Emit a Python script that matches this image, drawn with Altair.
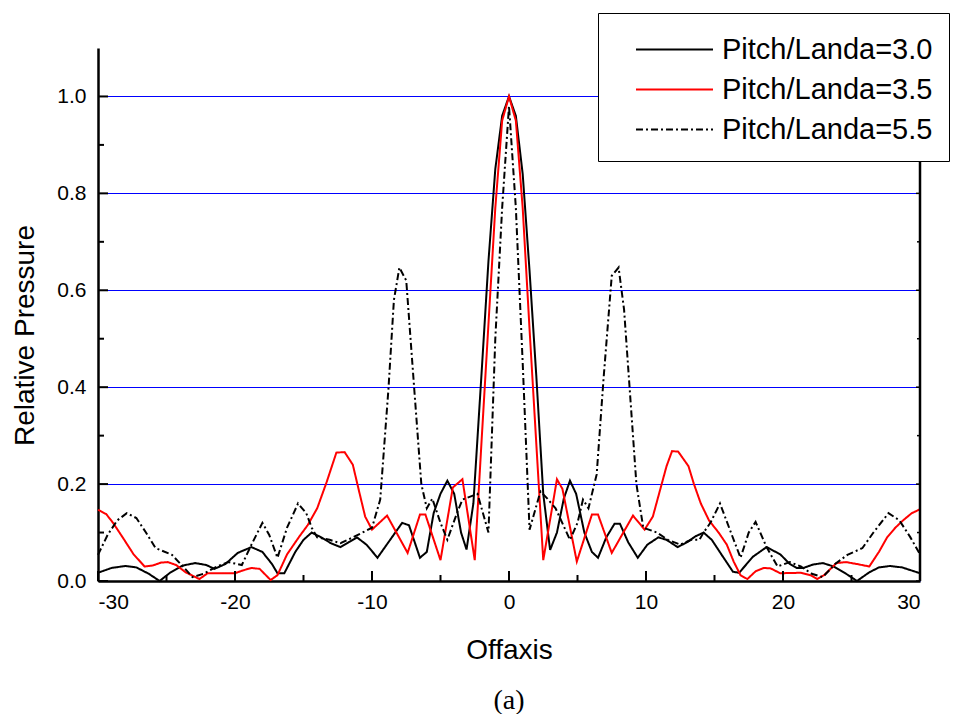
import altair as alt
import pandas as pd

# ---- data ----
x_30 = [-30, -29, -28, -27.2, -26.3, -25.5, -24.7, -23.8, -22.9, -22.1, -21.5, -20.7, -19.8, -18.8, -18.0,
        -17.3, -16.9, -16.4, -15.6, -15.0, -14.4, -13.7, -13.0, -12.3, -11.7, -11.1, -10.4, -9.6, -8.8, -7.8,
        -7.3, -6.5, -6.0, -5.5, -5.0, -4.5, -4.0, -3.5, -3.1, -2.6, -2.0, -1.5, -1.0, -0.5, 0,
        0.5, 1.0, 1.5, 2.0, 2.5, 3.0, 3.5, 4.0, 4.45, 4.9, 5.5, 6.05, 6.5, 7.1, 7.7, 8.1, 8.7, 9.4, 10.1,
        10.9, 11.5, 12.3, 13.0, 13.6, 14.2, 14.8, 15.5, 16.35, 16.8, 17.8, 18.8, 19.8, 20.5, 21.0, 21.5,
        22.2, 22.9, 23.7, 24.6, 25.4, 26.3, 27.0, 27.8, 28.7, 30]
y_30 = [0.017, 0.027, 0.031, 0.028, 0.015, 0.0, 0.018, 0.032, 0.037, 0.033, 0.025, 0.035, 0.058, 0.070, 0.060,
        0.035, 0.016, 0.016, 0.060, 0.085, 0.100, 0.090, 0.078, 0.070, 0.080, 0.090, 0.075, 0.048, 0.080, 0.120,
        0.115, 0.048, 0.060, 0.140, 0.180, 0.207, 0.180, 0.100, 0.065, 0.160, 0.430, 0.660, 0.850, 0.960, 1.000,
        0.960, 0.840, 0.640, 0.420, 0.180, 0.064, 0.100, 0.170, 0.207, 0.180, 0.100, 0.060, 0.048, 0.090, 0.118,
        0.118, 0.080, 0.048, 0.075, 0.090, 0.085, 0.070, 0.080, 0.092, 0.100, 0.085, 0.055, 0.019, 0.017, 0.050,
        0.070, 0.055, 0.035, 0.027, 0.027, 0.034, 0.037, 0.030, 0.015, 0.000, 0.018, 0.028, 0.031, 0.028, 0.016]

x_35 = [-30, -29.4, -28.9, -28.2, -27.4, -26.6, -26.0, -25.4, -24.9, -24.3, -23.6, -22.6, -22.0, -21.0, -20.0,
        -19.4, -18.8, -18.2, -17.4, -16.9, -16.2, -15.3, -14.7, -14.0, -13.3, -12.6, -12.0, -11.4, -10.9, -10.5,
        -10.0, -8.9, -7.4, -6.5, -6.1, -5.0, -4.1, -3.4, -2.5, -2.0, -1.5, -1.0, -0.5, 0,
        0.5, 1.0, 1.5, 2.0, 2.5, 3.5, 3.9, 4.95, 6.05, 6.5, 7.5, 9.05, 9.9, 10.5, 11.5, 11.9, 12.35, 13.1,
        13.5, 14.0, 14.6, 15.3, 15.9, 16.4, 16.9, 17.4, 18.0, 18.6, 19.1, 19.8, 21.3, 22.0, 22.5, 23.0, 23.9,
        24.6, 25.4, 26.3, 27.0, 27.6, 28.2, 28.8, 29.4, 30]
y_35 = [0.147, 0.138, 0.120, 0.090, 0.055, 0.030, 0.032, 0.038, 0.039, 0.033, 0.018, 0.004, 0.016, 0.016, 0.016,
        0.022, 0.027, 0.025, 0.002, 0.012, 0.055, 0.092, 0.115, 0.150, 0.205, 0.265, 0.266, 0.240, 0.180, 0.133,
        0.106, 0.135, 0.058, 0.137, 0.137, 0.043, 0.193, 0.210, 0.043, 0.290, 0.530, 0.770, 0.950, 1.000,
        0.950, 0.770, 0.520, 0.280, 0.043, 0.210, 0.190, 0.040, 0.137, 0.137, 0.058, 0.135, 0.106, 0.133, 0.237,
        0.268, 0.267, 0.237, 0.200, 0.160, 0.125, 0.100, 0.075, 0.040, 0.012, 0.004, 0.020, 0.027, 0.026, 0.016,
        0.017, 0.012, 0.004, 0.012, 0.037, 0.039, 0.035, 0.030, 0.060, 0.090, 0.110, 0.126, 0.140, 0.148]

x_55 = [-30, -29.3, -28.6, -27.9, -27.2, -26.5, -25.8, -24.6, -23.8, -23.1, -22.3, -21.3, -20.5, -19.5, -18.8,
        -18.0, -17.5, -16.9, -16.2, -15.4, -14.8, -14.4, -14.0, -13.1, -12.3, -11.4, -10.0, -9.4, -8.8, -8.4,
        -8.0, -7.5, -6.9, -6.4, -6.0, -5.6, -5.0, -4.5, -3.8, -3.4, -2.3, -1.5, -1.0, -0.5, 0,
        0.5, 1.0, 1.5, 2.3, 2.8, 3.4, 4.45, 5.0, 5.4, 5.8, 6.4, 6.9, 7.5, 8.0, 8.4, 8.8, 9.3, 9.8, 10.8,
        11.6, 12.5, 13.3, 13.9, 14.2, 14.7, 15.4, 16.2, 16.9, 17.5, 18.0, 18.8, 19.6, 20.5, 21.3, 22.1,
        22.9, 23.8, 24.7, 25.8, 26.6, 27.7, 28.5, 29.3, 30]
y_55 = [0.054, 0.095, 0.125, 0.140, 0.130, 0.100, 0.068, 0.054, 0.030, 0.008, 0.015, 0.030, 0.039, 0.033, 0.075,
        0.120, 0.095, 0.048, 0.110, 0.160, 0.140, 0.110, 0.090, 0.085, 0.078, 0.090, 0.110, 0.168, 0.396, 0.580,
        0.647, 0.620, 0.390, 0.200, 0.150, 0.170, 0.120, 0.085, 0.140, 0.168, 0.180, 0.100, 0.500, 0.770, 0.980,
        0.770, 0.450, 0.106, 0.185, 0.170, 0.150, 0.085, 0.120, 0.168, 0.150, 0.220, 0.417, 0.630, 0.647, 0.560,
        0.400, 0.200, 0.110, 0.100, 0.085, 0.075, 0.085, 0.085, 0.100, 0.120, 0.160, 0.100, 0.048, 0.100, 0.122,
        0.070, 0.030, 0.039, 0.030, 0.015, 0.008, 0.035, 0.054, 0.068, 0.100, 0.140, 0.125, 0.090, 0.055]

series_names = ["Pitch/Landa=3.0", "Pitch/Landa=3.5", "Pitch/Landa=5.5"]
x_ticks_major = [-30, -20, -10, 0, 10, 20, 30]
x_ticks_minor = [-25, -15, -5, 5, 15, 25]
y_ticks_major = [0.0, 0.2, 0.4, 0.6, 0.8, 1.0]
y_ticks_minor = [0.1, 0.3, 0.5, 0.7, 0.9]

rows = []
for name, xs, ys in zip(series_names, [x_30, x_35, x_55], [y_30, y_35, y_55]):
    for a, b in zip(xs, ys):
        rows.append({"Offaxis": a, "Pressure": b, "series": name})
df = pd.DataFrame(rows)

W, H = 822, 533
FONT = "Liberation Sans"

xscale = alt.Scale(domain=[-30, 30], nice=False, zero=False)
yscale = alt.Scale(domain=[0, 1.1], nice=False, zero=False)

legend = alt.Legend(
    title=None, orient="none", legendX=500, legendY=-35,
    symbolType="M-2,0L2,0", symbolSize=1482, symbolStrokeWidth=2,
    labelFont=FONT, labelFontSize=29, labelColor="black", labelOffset=27, labelLimit=500,
    padding=16, symbolOffset=40, rowPadding=4,
    strokeColor="black", fillColor="white",
)

lines = alt.Chart(df).mark_line(strokeWidth=2).encode(
    x=alt.X("Offaxis:Q", scale=xscale, axis=alt.Axis(
        values=x_ticks_major, labelExpr="toString(datum.value)", ticks=False, tickSize=0,
        labelFont=FONT, labelFontSize=21, labelColor="black", labelPadding=10,
        domainColor="black", domainWidth=2.5, grid=False,
        title="Offaxis", titleFont=FONT, titleFontSize=28, titleFontWeight="normal", titleColor="black",
        titleX=W / 2, titleY=77, titleBaseline="alphabetic", titleAlign="center")),
    y=alt.Y("Pressure:Q", scale=yscale, axis=alt.Axis(
        values=y_ticks_major, format=".1f", ticks=False, tickSize=0,
        labelFont=FONT, labelFontSize=21, labelColor="black", labelPadding=12,
        domainColor="black", domainWidth=2.5, grid=True, gridColor="#0000ff", gridWidth=1,
        title="Relative Pressure", titleFont=FONT, titleFontSize=28, titleFontWeight="normal",
        titleColor="black", titleX=-65, titleY=287, titleBaseline="alphabetic", titleAlign="center",
        titleAngle=270)),
    color=alt.Color("series:N", scale=alt.Scale(domain=series_names, range=["black", "red", "black"]),
                    legend=legend),
    strokeDash=alt.StrokeDash("series:N", scale=alt.Scale(domain=series_names,
                                                          range=[[1, 0], [1, 0], [7, 3, 2, 3]]),
                              legend=legend),
)

xmaj = pd.DataFrame({"v": x_ticks_major})
xmin = pd.DataFrame({"v": x_ticks_minor})
ymaj = pd.DataFrame({"v": y_ticks_major})
ymin = pd.DataFrame({"v": y_ticks_minor})

tick_x_major = alt.Chart(xmaj).mark_rule(color="black", strokeWidth=2).encode(
    x=alt.X("v:Q", scale=xscale), y=alt.value(H), y2=alt.value(H - 10))
tick_x_minor = alt.Chart(xmin).mark_rule(color="black", strokeWidth=2).encode(
    x=alt.X("v:Q", scale=xscale), y=alt.value(H), y2=alt.value(H - 6))
tick_y_major = alt.Chart(ymaj).mark_rule(color="black", strokeWidth=2).encode(
    y=alt.Y("v:Q", scale=yscale), x=alt.value(0), x2=alt.value(10))
tick_y_minor = alt.Chart(ymin).mark_rule(color="black", strokeWidth=2).encode(
    y=alt.Y("v:Q", scale=yscale), x=alt.value(0), x2=alt.value(6))
tick_r_major = alt.Chart(ymaj).mark_rule(color="black", strokeWidth=1.5).encode(
    y=alt.Y("v:Q", scale=yscale), x=alt.value(W), x2=alt.value(W - 4))
tick_r_minor = alt.Chart(ymin).mark_rule(color="black", strokeWidth=1.5).encode(
    y=alt.Y("v:Q", scale=yscale), x=alt.value(W), x2=alt.value(W - 3))
right_line = alt.Chart(xmaj.head(1)).mark_rule(color="black", strokeWidth=2.5).encode(
    x=alt.value(W), y=alt.value(0), y2=alt.value(H))

caption = alt.Chart(pd.DataFrame({"t": ["(a)"]})).mark_text(
    font="Liberation Serif", fontSize=28, color="black", baseline="middle", align="center"
).encode(text="t:N", x=alt.value(W / 2), y=alt.value(653))

chart = alt.layer(
    lines, tick_x_major, tick_x_minor, tick_y_major, tick_y_minor, tick_r_major, tick_r_minor,
    right_line, caption
).properties(
    width=W, height=H,
    autosize=alt.AutoSizeParams(type="none"),
    padding={"left": 98, "top": 48, "right": 45, "bottom": 133},
    background="white",
).configure_view(stroke=None)

chart.save("out.html", embed_options={"renderer": "svg", "actions": False})
